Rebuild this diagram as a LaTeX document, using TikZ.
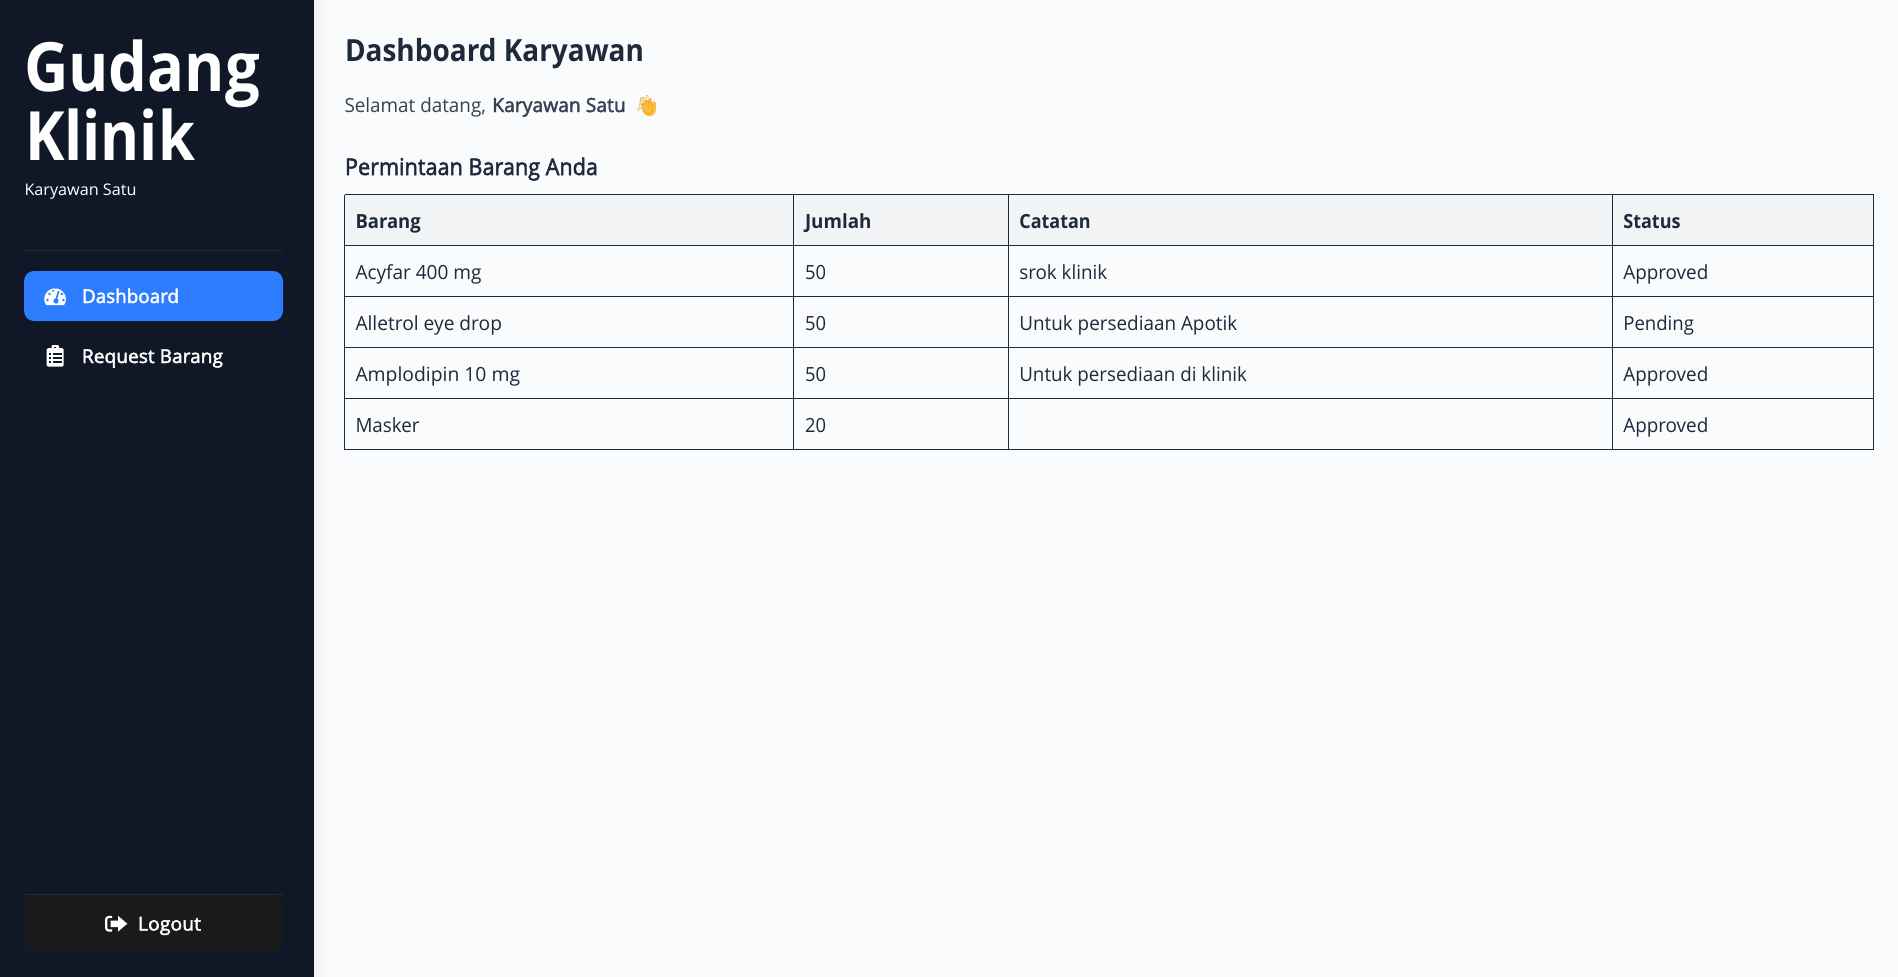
\documentclass[tikz,border=0pt]{standalone}
\usepackage{fontspec}
\usepackage{graphicx}
\setmainfont{Open Sans}
\newfontfamily\semi[FakeBold=2.2]{Open Sans}
\newfontfamily\emojifont{Noto Emoji}
\definecolor{side}{HTML}{101828}
\definecolor{mainbg}{HTML}{F9FBFD}
\definecolor{ink}{HTML}{1E293B}
\definecolor{soft}{HTML}{374151}
\definecolor{blue}{HTML}{2E7DFF}
\definecolor{logoutbg}{HTML}{1A1A1A}
\definecolor{headbg}{HTML}{F3F4F6}
\definecolor{waveyel}{HTML}{FBBF3C}
\definecolor{waveor}{HTML}{E89B1C}
\newcommand\fitw[2]{\resizebox{#1pt}{\height}{#2}}
\newcommand\cell[4]{\node[tcell,font=\fontsize{19.5pt}{23pt}\selectfont] (#1) at #2 {\fitw{#3}{#4}};}
\newcommand\hcell[4]{\node[tcell,font=\fontsize{19.5pt}{23pt}\selectfont\bfseries] (#1) at #2 {\fitw{#3}{#4}};}
\tikzset{
  txt/.style={anchor=base west,inner sep=0pt,outer sep=0pt},
  tcell/.style={txt,text=ink},
  side text/.style={txt,text=white},
  rule/.style={draw=ink,line width=1pt},
}
\begin{document}
\begin{tikzpicture}[x=1pt,y=-1pt]
\useasboundingbox (0,0) rectangle (1898,977);
\fill[mainbg] (0,0) rectangle (1898,977);
\shade[left color=black!5,right color=mainbg] (314,0) rectangle (330,977);
\fill[side] (0,0) rectangle (314,977);
% sidebar
\node[side text,font=\fontsize{68pt}{70pt}\selectfont\bfseries] (t1) at (24,91) {\fitw{236}{Gudang}};
\node[side text,font=\fontsize{68pt}{70pt}\selectfont\bfseries] (t2) at (25,160.5) {\fitw{170}{Klinik}};
\node[side text,font=\fontsize{16pt}{19pt}\selectfont] (who) at (24.5,195) {\fitw{112}{Karyawan Satu}};
\draw[ink,line width=1pt] (24,250.5) -- (283,250.5);
\fill[blue,rounded corners=10pt] (24,271) rectangle (283,321);
\node[side text,font=\fontsize{19pt}{23pt}\semi] (m1) at (82,303) {\fitw{97}{Dashboard}};
\node[side text,font=\fontsize{19pt}{23pt}\semi] (m2) at (82,363) {\fitw{141}{Request Barang}};
% gauge icon
\fill[white] (46,305) arc[start angle=147,end angle=393,radius=10.8] -- cycle;
\fill[blue] (56,301) circle(2.6);
\draw[blue,line width=1.6pt] (56,300) -- (58.7,291);
\fill[blue] (47.5,300) circle(1.4) (49.5,294) circle(1.4) (53,290.8) circle(1.1) (62,294) circle(1.4) (63.5,300) circle(1.4);
% clipboard icon
\fill[white,rounded corners=1.5pt] (46.7,348) rectangle (63.7,366.7);
\fill[white,rounded corners=1pt] (51.5,345) rectangle (59,351);
\fill[side] (54.2,346.6) rectangle (56.4,348.2);
\foreach \yy in {354,358,362}{
  \fill[side] (49.2,\yy-0.8) rectangle (51.2,\yy+0.8);
  \fill[side] (53,\yy-0.8) rectangle (61.5,\yy+0.8);
}
% logout
\draw[ink,line width=1pt] (24,894.5) -- (283,894.5);
\fill[logoutbg,rounded corners=10pt] (24,895) rectangle (283,951);
\draw[white,line width=2.2pt,rounded corners=2.5pt] (112,917) -- (106.2,917) -- (106.2,930.5) -- (112,930.5);
\fill[white] (110.5,920.5) -- (118,920.5) -- (118,915.8) -- (127.3,923.7) -- (118,931.6) -- (118,927) -- (110.5,927) -- cycle;
\node[side text,font=\fontsize{19pt}{23pt}\semi] (lo) at (138,930.5) {\fitw{63}{Logout}};
% header
\node[tcell,font=\fontsize{30.5pt}{34pt}\selectfont\bfseries] (h1) at (345,61.5) {\fitw{299}{Dashboard Karyawan}};
\node[txt,text=soft,font=\fontsize{19.5pt}{23pt}\selectfont] (s1) at (344.5,112) {\fitw{141.5}{Selamat datang,}};
\node[txt,text=soft,font=\fontsize{19.5pt}{23pt}\semi] (s2) at (492.3,112) {\fitw{133.5}{Karyawan Satu}};
% waving hand
\draw[waveyel,line width=3.6pt,line cap=round] (645,112) -- (643,104) (648,110) -- (646,101) (651,110) -- (650,100.5) (654,110) -- (654,103);
\fill[waveyel] (649.5,110) circle(6.2);
\node[txt,text=waveor,font=\fontsize{19pt}{23pt}\emojifont] (s3) at (635,111.7) {\fitw{20}{\char"1F44B}};
\node[tcell,font=\fontsize{23pt}{27pt}\semi] (h2) at (345,175) {\fitw{253}{Permintaan Barang Anda}};
% table
\fill[headbg] (344.5,194.5) rectangle (1873.5,245.5);
\foreach \yy in {194.5,245.5,296.5,347.5,398.5,449.5}{\draw[rule] (344.5,\yy) -- (1873.5,\yy);}
\foreach \xx in {344.5,793.5,1008.5,1612.5,1873.5}{\draw[rule] (\xx,194.5) -- (\xx,449.5);}
\hcell{a0}{(355.5,228)}{65.3}{Barang}
\hcell{b0}{(805,228)}{66.5}{Jumlah}
\hcell{c0}{(1019.3,228)}{71.4}{Catatan}
\hcell{d0}{(1623.3,228)}{57.3}{Status}
\cell{a1}{(355.5,279)}{126}{Acyfar 400 mg}
\cell{b1}{(805,279)}{21}{50}
\cell{c1}{(1019.3,279)}{88}{srok klinik}
\cell{d1}{(1623.3,279)}{85}{Approved}
\cell{a2}{(355.5,330)}{146.5}{Alletrol eye drop}
\cell{b2}{(805,330)}{21}{50}
\cell{c2}{(1019.3,330)}{218}{Untuk persediaan Apotik}
\cell{d2}{(1623.3,330)}{70.7}{Pending}
\cell{a3}{(355.5,381)}{164.6}{Amplodipin 10 mg}
\cell{b3}{(805,381)}{21}{50}
\cell{c3}{(1019.3,381)}{227.6}{Untuk persediaan di klinik}
\cell{d3}{(1623.3,381)}{85}{Approved}
\cell{a4}{(355.5,432)}{64}{Masker}
\cell{b4}{(805,432)}{21}{20}
\cell{d4}{(1623.3,432)}{85}{Approved}
\end{tikzpicture}
\end{document}
